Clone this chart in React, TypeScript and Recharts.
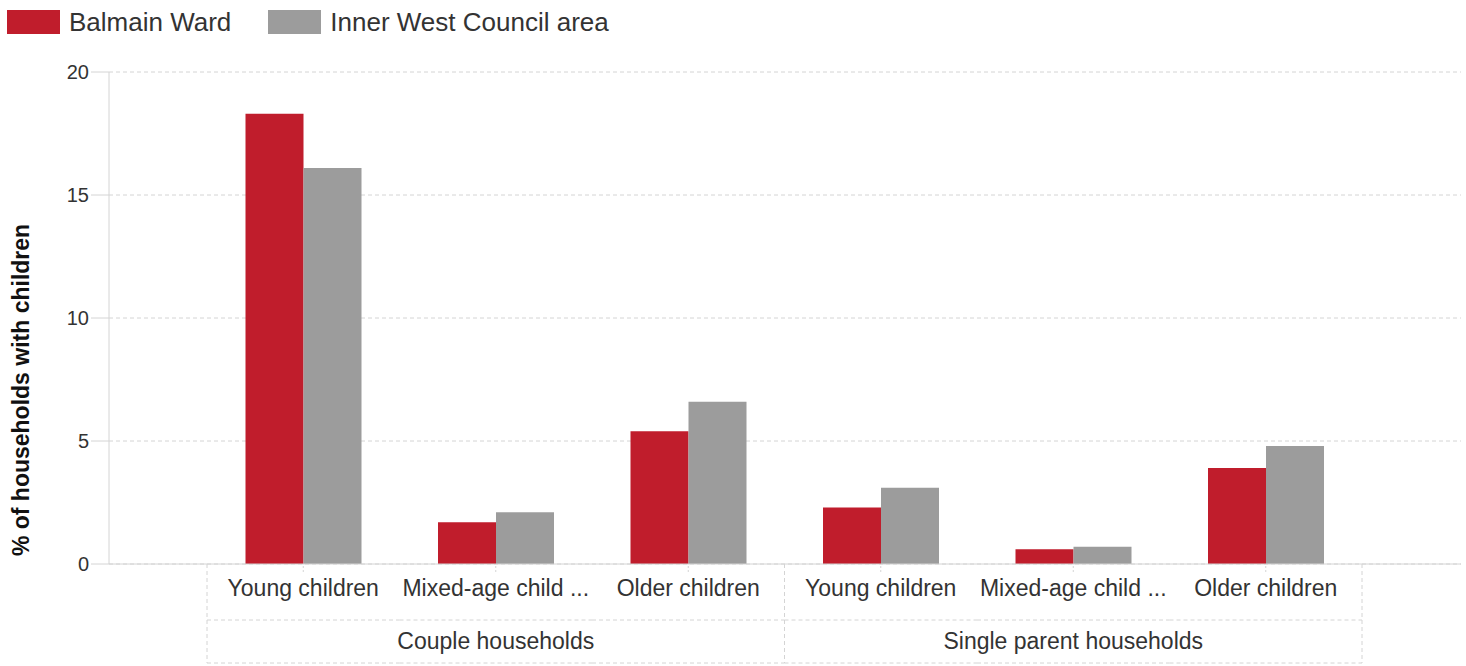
import { BarChart, Bar, XAxis, YAxis, CartesianGrid } from "recharts";

const categories = [
  "Young children",
  "Mixed-age children",
  "Older children",
  "Young children",
  "Mixed-age children",
  "Older children",
];
const groups = ["Couple households", "Single parent households"];
const groupOfCategory = [0, 0, 0, 1, 1, 1];
const balmainWard = [18.3, 1.7, 5.4, 2.3, 0.6, 3.9];
const innerWest = [16.1, 2.1, 6.6, 3.1, 0.7, 4.8];
const yTicks = [0, 5, 10, 15, 20];

const seriesNames = ["Balmain Ward", "Inner West Council area"];
const RED = "#C01D2C";
const GREY = "#9C9C9C";
const TEXT = "#333";
const LINE = "#d4d4d4";
const FONT = "Arial, 'Liberation Sans', sans-serif";

const W = 1466;
const H = 666;
const MARGIN = { top: 72, right: 5, bottom: 0, left: 0 };
const Y_AXIS_W = 109;
const X_AXIS_H = 102;
const PAD = { left: 98, right: 99 };
const TICK = 8;

const plotW = W - MARGIN.left - MARGIN.right - Y_AXIS_W;
const band = (plotW - PAD.left - PAD.right) / categories.length;

const data = categories.map((name, i) => ({
  id: String(i),
  name,
  balmain: balmainWard[i],
  innerWest: innerWest[i],
}));

function shorten(s: string) {
  return s.length > 16 ? s.slice(0, 15) + " ..." : s;
}

function CategoryTick(props: any) {
  const { x, y, index } = props;
  const g = groupOfCategory[index];
  const first = index === 0 || groupOfCategory[index - 1] !== g;
  const last = index === categories.length - 1 || groupOfCategory[index + 1] !== g;
  const members = groupOfCategory.filter((v) => v === g).length;
  const pos = groupOfCategory.slice(0, index).filter((v) => v === g).length;
  const middle = pos === Math.floor(members / 2);
  const top = y - TICK;
  const l = x - band / 2;
  const r = x + band / 2;
  const dash = "4 3";
  return (
    <g>
      <text
        x={x}
        y={y + 16}
        dy="0.35em"
        textAnchor="middle"
        fill={TEXT}
        fontSize={23}
        fontFamily={FONT}
      >
        {shorten(categories[index])}
      </text>
      <line x1={l} x2={r} y1={y + 48} y2={y + 48} stroke={LINE} strokeDasharray={dash} />
      <line x1={l} x2={r} y1={y + 91} y2={y + 91} stroke={LINE} strokeDasharray={dash} />
      {first && <line x1={l} x2={l} y1={top} y2={y + 91} stroke={LINE} strokeDasharray={dash} />}
      {last && <line x1={r} x2={r} y1={top} y2={y + 91} stroke={LINE} strokeDasharray={dash} />}
      {middle && (
        <text
          x={x}
          y={y + 69}
          dy="0.35em"
          textAnchor="middle"
          fill={TEXT}
          fontSize={23}
          fontFamily={FONT}
        >
          {groups[g]}
        </text>
      )}
    </g>
  );
}

function YLabel() {
  return (
    <text
      x={23}
      y={390}
      transform="rotate(-90 23 390)"
      textAnchor="middle"
      dominantBaseline="middle"
      fontSize={23}
      fontWeight="bold"
      fontFamily={FONT}
      fill="#111"
    >
      % of households with children
    </text>
  );
}

export default function App() {
  const legendItems = [
    { name: seriesNames[0], color: RED },
    { name: seriesNames[1], color: GREY },
  ];
  return (
    <div style={{ position: "absolute", left: 0, top: 0, width: W, height: H, background: "#fff", fontFamily: FONT }}>
      <div style={{ position: "absolute", left: 7, top: 8, display: "flex", alignItems: "center", height: 28 }}>
        {legendItems.map((it, i) => (
          <div key={it.name} style={{ display: "flex", alignItems: "center", marginRight: i === 0 ? 37 : 0 }}>
            <div style={{ width: 53, height: 24, background: it.color, marginRight: 9 }} />
            <span style={{ fontSize: 26, color: TEXT, lineHeight: "28px" }}>{it.name}</span>
          </div>
        ))}
      </div>
      <BarChart width={W} height={H} data={data} margin={MARGIN} barCategoryGap="20%" barGap={0}>
        <CartesianGrid vertical={false} stroke={LINE} strokeDasharray="4 3" />
        <XAxis
          dataKey="id"
          height={X_AXIS_H}
          padding={PAD}
          axisLine={{ stroke: LINE }}
          tickLine={{ stroke: LINE, strokeDasharray: "2 2" }}
          tickSize={TICK}
          tickMargin={0}
          interval={0}
          tick={<CategoryTick />}
        />
        <YAxis
          width={Y_AXIS_W}
          domain={[0, 20]}
          ticks={yTicks}
          axisLine={{ stroke: LINE }}
          tickLine={{ stroke: LINE }}
          tickSize={18}
          tickMargin={2}
          tick={{ fill: TEXT, fontSize: 20, fontFamily: FONT }}
          label={<YLabel />}
        />
        <Bar dataKey="balmain" name={seriesNames[0]} fill={RED} isAnimationActive={false} />
        <Bar dataKey="innerWest" name={seriesNames[1]} fill={GREY} isAnimationActive={false} />
      </BarChart>
    </div>
  );
}
